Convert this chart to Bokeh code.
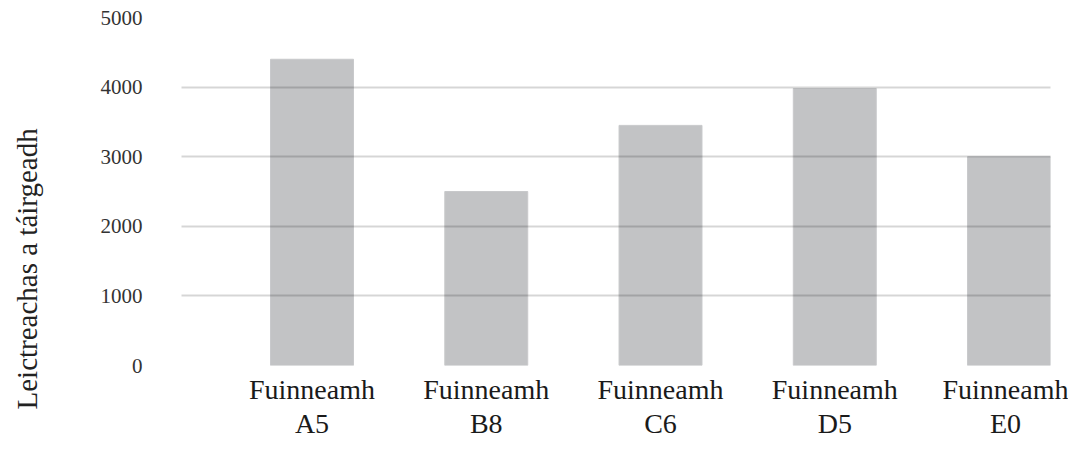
from bokeh.plotting import figure
from bokeh.models import FixedTicker, Range1d, ColumnDataSource, LinearAxis, Title
from bokeh.embed import file_html
from bokeh.resources import INLINE

# Data
categories = ["A5", "B8", "C6", "D5", "E0"]
tick_labels = ["Fuinneamh\nA5", "Fuinneamh\nB8", "Fuinneamh\nC6", "Fuinneamh\nD5", "Fuinneamh\nE0"]
values = [4400, 2500, 3450, 3980, 3000]
y_ticks = [0, 1000, 2000, 3000, 4000, 5000]
y_title = "Leictreachas a táirgeadh"

W, H = 1068, 441
positions = list(range(len(categories)))
source = ColumnDataSource(dict(x=positions, top=values, cat=categories))

p = figure(width=W, height=H, output_backend="svg", toolbar_location=None,
           x_range=Range1d(-0.749, 4.238), y_range=Range1d(0, 5000),
           min_border_left=181, min_border_right=18, min_border_top=17, min_border_bottom=70)

p.vbar(x="x", top="top", bottom=0, width=0.476, source=source,
       fill_color="#c2c3c5", line_color="#c8c9cb", line_width=1)

p.outline_line_color = None
p.background_fill_color = "white"
p.border_fill_color = "white"

# grid drawn on top of bars
p.xgrid.grid_line_color = None
p.ygrid.ticker = FixedTicker(ticks=y_ticks)
p.ygrid.grid_line_color = "black"
p.ygrid.grid_line_alpha = 0.16
p.ygrid.grid_line_width = 2
p.ygrid.level = "overlay"

serif = "Liberation Serif"

# y axis (tick labels only)
yax = p.yaxis[0]
yax.ticker = FixedTicker(ticks=y_ticks)
yax.axis_line_color = None
yax.major_tick_line_color = None
yax.minor_tick_line_color = None
yax.major_label_text_font = serif
yax.major_label_text_font_size = "21px"
yax.major_label_text_color = "#333333"
yax.major_label_standoff = 33

# empty axis used only as a spacer between the tick labels and the title
spacer = LinearAxis(ticker=FixedTicker(ticks=[]), axis_label=" ", axis_label_standoff=51,
                    axis_label_text_font_size="1px", axis_line_color=None,
                    major_tick_line_color=None, minor_tick_line_color=None)
p.add_layout(spacer, "left")

# y title: left-side title starting near the bottom, as in the reference
t = Title(text=y_title, align="left", offset=-44, standoff=0,
          text_font=serif, text_font_style="normal", text_font_size="29px",
          text_color="#222222")
p.add_layout(t, "left")

# x axis
xax = p.xaxis[0]
xax.ticker = FixedTicker(ticks=positions)
xax.major_label_overrides = {i: lab for i, lab in zip(positions, tick_labels)}
xax.axis_line_color = None
xax.major_tick_line_color = None
xax.minor_tick_line_color = None
xax.major_label_text_font = serif
xax.major_label_text_font_size = "28px"
xax.major_label_text_color = "#1a1a1a"
xax.major_label_text_line_height = 1.1
xax.major_label_standoff = 2

open("out.html", "w").write(file_html(p, INLINE))
